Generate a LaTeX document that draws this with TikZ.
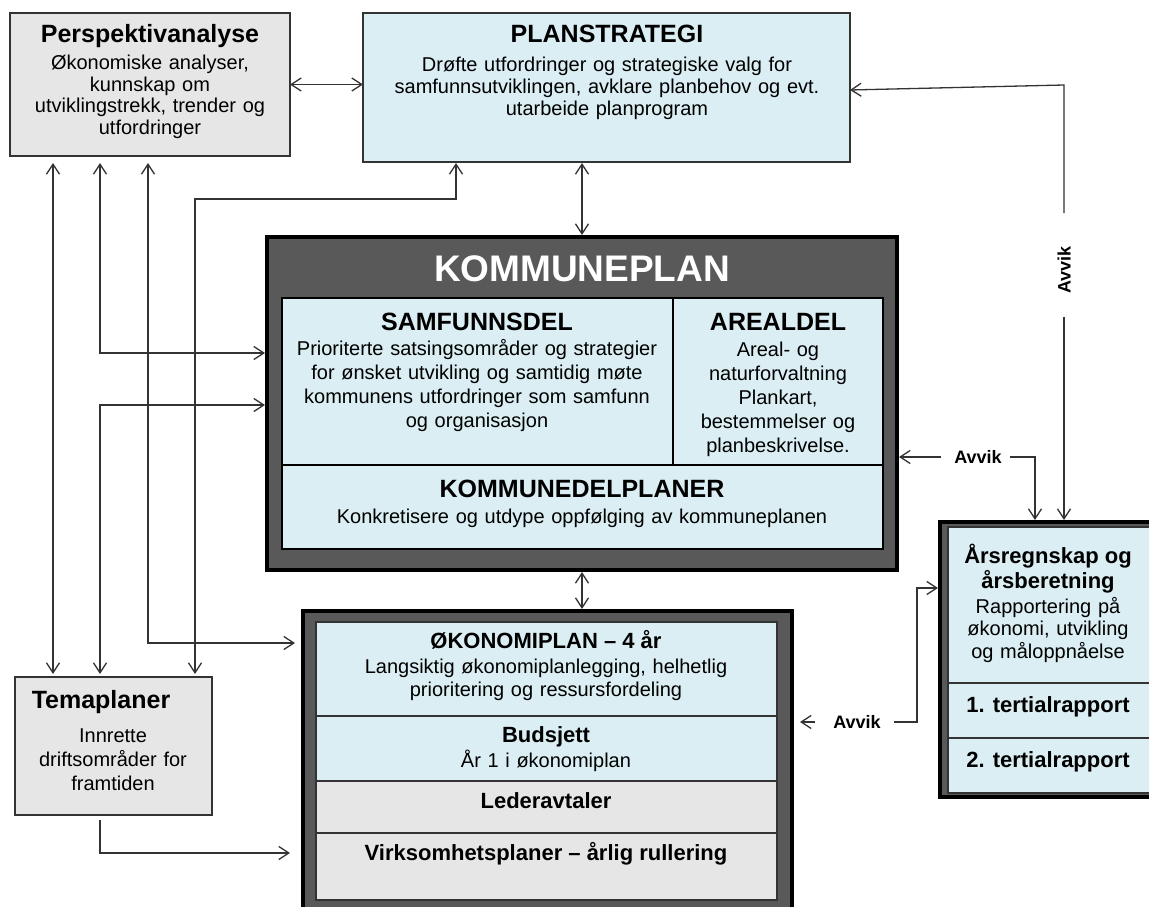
\documentclass[tikz,border=0pt]{standalone}
\usepackage{fontspec}
\setmainfont{Liberation Sans}
\usetikzlibrary{arrows.meta}
\definecolor{lblue}{HTML}{DAEEF3}
\definecolor{lgray}{HTML}{E6E6E6}
\definecolor{dgray}{HTML}{595959}
\definecolor{linec}{HTML}{333333}
\newcommand\bodyfs[1]{\fontsize{20}{#1}\selectfont}
\begin{document}
\begin{tikzpicture}[x=1pt,y=-1pt,
  box/.style={draw=linec, line width=1.3pt, inner sep=0pt, outer sep=0pt, anchor=north west},
  bluebox/.style={box, fill=lblue},
  graybox/.style={box, fill=lgray},
  frame/.style={draw=black, line width=4pt, fill=dgray, inner sep=0pt, outer sep=0pt, anchor=north west},
  ttl/.style={font=\bfseries\fontsize{25}{28}\selectfont, inner sep=0pt, anchor=base},
  sub/.style={font=\bfseries\fontsize{22}{25}\selectfont, inner sep=0pt, anchor=base},
  bodytxt/.style={inner sep=0pt, anchor=base, align=center, text width=#1},
  conn/.style={draw=linec, line width=1.3pt},
  tipa/.tip={Straight Barb[length=10pt,width=13pt]},
  arr/.style={conn, -tipa},
  darr/.style={conn, tipa-tipa},
  avvik/.style={font=\bfseries\fontsize{18}{20}\selectfont, inner sep=0pt}
]
\fill[white] (0,0) rectangle (1149,907);
\useasboundingbox (0,0) rectangle (1149,907);

% ---------- boxes ----------
\node[graybox, minimum width=280pt, minimum height=143pt] (persp) at (10,13) {};
\node[bluebox, minimum width=487pt, minimum height=149pt] (plan) at (363,13) {};

\node[frame, minimum width=630pt, minimum height=333pt] (kp) at (267,237) {};
\node[bluebox, draw=black, minimum width=391pt, minimum height=167pt] (samf) at (282,298) {};
\node[bluebox, draw=black, minimum width=210pt, minimum height=167pt] (areal) at (673,298) {};
\node[bluebox, draw=black, minimum width=601pt, minimum height=84pt] (kdp) at (282,465) {};

\node[frame, minimum width=489pt, minimum height=304pt] (oko) at (303,611) {};
\node[bluebox, minimum width=461pt, minimum height=94pt] (okp) at (316,622) {};
\node[bluebox, minimum width=461pt, minimum height=65pt] (bud) at (316,716) {};
\node[graybox, minimum width=461pt, minimum height=52pt] (led) at (316,781) {};
\node[graybox, minimum width=461pt, minimum height=67pt] (virk) at (316,833) {};

\node[frame, minimum width=230pt, minimum height=275pt] (ars) at (940,522) {};
\node[bluebox, minimum width=222pt, minimum height=156pt] (arsA) at (948,527) {};
\node[bluebox, minimum width=222pt, minimum height=55pt] (ter1) at (948,683) {};
\node[bluebox, minimum width=222pt, minimum height=55pt] (ter2) at (948,738) {};

\node[graybox, minimum width=197pt, minimum height=138pt] (tema) at (15,677) {};

% ---------- texts ----------
\node[ttl] (perspT) at (150,43) {Perspektivanalyse};
\node[bodytxt=270pt, font=\bodyfs{21.5}] (perspB) at (150,70) {Økonomiske analyser,\\kunnskap om\\utviklingstrekk, trender og\\utfordringer};

\node[ttl] (planT) at (607,43) {PLANSTRATEGI};
\node[bodytxt=470pt, font=\bodyfs{22}] (planB) at (607,71) {Drøfte utfordringer og strategiske valg for\\samfunnsutviklingen, avklare planbehov og evt.\\utarbeide planprogram};

\node[font=\bfseries\fontsize{37}{40}\selectfont, text=white, inner sep=0pt, anchor=base] (kpT) at (582,281) {KOMMUNEPLAN};

\node[ttl] (samfT) at (477,330) {SAMFUNNSDEL};
\node[bodytxt=385pt, font=\bodyfs{24}] (samfB) at (477,355) {Prioriterte satsingsområder og strategier\\for ønsket utvikling og samtidig møte\\kommunens utfordringer som samfunn\\og organisasjon};

\node[ttl] (arealT) at (778,330) {AREALDEL};
\node[bodytxt=205pt, font=\bodyfs{24}] (arealB) at (778,356) {Areal- og\\naturforvaltning\\Plankart,\\bestemmelser og\\planbeskrivelse.};

\node[ttl] (kdpT) at (582,497) {KOMMUNEDELPLANER};
\node[bodytxt=590pt, font=\bodyfs{24}] (kdpB) at (582,523) {Konkretisere og utdype oppfølging av kommuneplanen};

\node[sub] (okpT) at (546,648) {ØKONOMIPLAN – 4 år};
\node[bodytxt=455pt, font=\bodyfs{23.5}] (okpB) at (546,673) {Langsiktig økonomiplanlegging, helhetlig\\prioritering og ressursfordeling};
\node[sub] (budT) at (546,742) {Budsjett};
\node[bodytxt=455pt, font=\bodyfs{23}] (budB) at (546,767) {År 1 i økonomiplan};
\node[sub] (ledT) at (546,808) {Lederavtaler};
\node[sub] (virkT) at (546,860) {Virksomhetsplaner – årlig rullering};

\node[sub] (arsT1) at (1048,563) {Årsregnskap og};
\node[sub] (arsT2) at (1048,588) {årsberetning};
\node[bodytxt=215pt, font=\bodyfs{22.5}] (arsB) at (1048,613) {Rapportering på\\økonomi, utvikling\\og måloppnåelse};
\node[sub] (ter1T) at (1048,712) {1. tertialrapport};
\node[sub] (ter2T) at (1048,767) {2. tertialrapport};

\node[ttl] (temaT) at (101,708) {Temaplaner};
\node[bodytxt=190pt, font=\bodyfs{24}] (temaB) at (113,742) {Innrette\\driftsområder for\\framtiden};

\node[avvik] (avk1) at (978,457) {Avvik};
\node[avvik, rotate=90] (avk2) at (1064,270) {Avvik};
\node[avvik] (avk3) at (857,722) {Avvik};

% ---------- helper coordinates ----------
\coordinate (x53) at (53,0);
\coordinate (x100) at (100,0);
\coordinate (x148) at (148,0);
\coordinate (x195) at (195,0);
\coordinate (x456) at (456,0);
\coordinate (x917) at (917,0);
\coordinate (x1035) at (1035,0);
\coordinate (y90) at (0,90);
\coordinate (y199) at (0,199);
\coordinate (y353) at (0,353);
\coordinate (y405) at (0,405);
\coordinate (y588) at (0,588);
\coordinate (y643) at (0,643);
\coordinate (y853) at (0,853);
\coordinate (rt) at (1064,85);
\coordinate (av3tip) at (800,722);

% ---------- connectors ----------
\draw[darr] (persp.east) -- (persp.east -| plan.west);
\draw[darr, shorten <=1pt, shorten >=2pt] (plan.south -| kp.north) -- (kp.north);
\draw[darr, shorten <=2pt, shorten >=2pt] (kp.south) -- (kp.south |- oko.north);

\draw[darr, shorten <=7pt, shorten >=3pt] (persp.south -| x53) -- (tema.north -| x53);
\draw[darr, shorten <=7pt, shorten >=2pt] (persp.south -| x100) |- (kp.west |- y353);
\draw[darr, shorten <=3pt, shorten >=2pt] (tema.north -| x100) |- (kp.west |- y405);
\draw[darr, shorten <=7pt, shorten >=8pt] (persp.south -| x148) |- (oko.west |- y643);
\draw[darr, shorten <=1pt, shorten >=3pt] (plan.south -| x456) |- (y199 -| x195) -- (tema.north -| x195);
\draw[arr, shorten <=5pt, shorten >=13pt] (tema.south -| x100) |- (oko.west |- y853);

\draw[arr, shorten <=13pt, shorten >=2pt] (avk1.west) -- (avk1.west -| kp.east);
\draw[arr, shorten <=8pt, shorten >=2pt] (avk1.east) -| (ars.north -| x1035);
\draw[arr, shorten <=33pt] (avk2.east) -- (rt) -- (plan.east |- y90);
\draw[arr, shorten <=23pt, shorten >=2pt] (avk2.west) -- (ars.north -| avk2.west);
\draw[arr, shorten <=18pt] (avk3.west) -- (av3tip);
\draw[arr, shorten <=13pt, shorten >=2pt] (avk3.east) -| (x917 |- y588) -- (ars.west |- y588);
\end{tikzpicture}
\end{document}
